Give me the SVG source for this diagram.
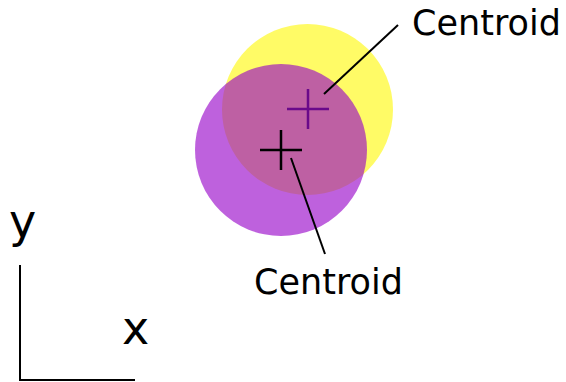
<svg xmlns="http://www.w3.org/2000/svg" width="566" height="382" viewBox="0 0 566 382">
<style>
text{font-family:"DejaVu Sans",sans-serif;fill:#000}
.lbl{font-size:35px}
.ax{font-size:46px}
.line{stroke:#000;stroke-width:2;fill:none}
</style>
<rect width="566" height="382" fill="#fff"/>
<g id="yellow-circle"><circle cx="307.5" cy="109.5" r="85.5" fill="#fffb66"/></g>
<g id="purple-circle"><circle cx="281" cy="150" r="86" fill="rgb(150,0,200)" fill-opacity="0.62"/></g>
<g id="yellow-centroid"><path d="M287 109H329M308 89V129" stroke="#6a0a8a" stroke-width="2.5" fill="none"/></g>
<g id="purple-centroid"><path d="M260 150H302M281 130V170" stroke="#000" stroke-width="2.5" fill="none"/></g>
<g id="connectors">
<line class="line" x1="324" y1="94" x2="398" y2="25"/>
<line class="line" x1="291" y1="158" x2="325" y2="254"/>
<path class="line" d="M20 265V380H135"/>
</g>
<g id="labels">
<text class="lbl" x="412" y="35">Centroid</text>
<text class="lbl" x="254" y="294">Centroid</text>
<text class="ax" x="9" y="237">y</text>
<text class="ax" x="122" y="344">x</text>
</g>
</svg>
